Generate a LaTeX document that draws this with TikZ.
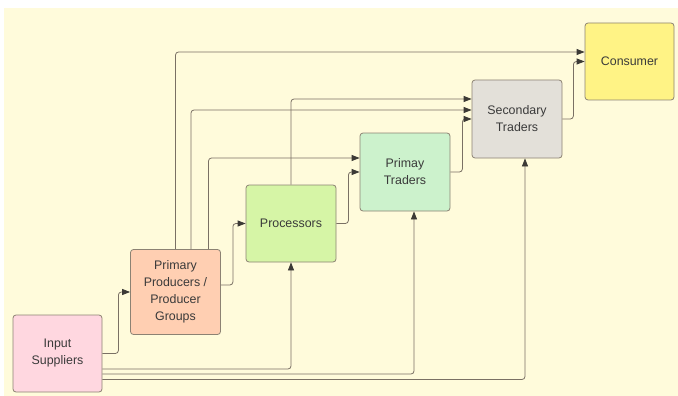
\documentclass[tikz,border=0pt]{standalone}
\usepackage{fontspec}
\setmainfont{Liberation Sans}
\usetikzlibrary{arrows.meta}
\definecolor{bgcream}{HTML}{FFFBDB}
\definecolor{edgegray}{HTML}{8C8273}
\definecolor{linegray}{HTML}{7A7064}
\definecolor{tipgray}{HTML}{3C3A36}
\definecolor{txtgray}{HTML}{3A3A3A}
\definecolor{cinput}{HTML}{FFD7E0}
\definecolor{cprod}{HTML}{FFCFB2}
\definecolor{cproc}{HTML}{D6F5A6}
\definecolor{cprim}{HTML}{CCF2CC}
\definecolor{csec}{HTML}{E3E0D9}
\definecolor{ccons}{HTML}{FFF385}
\begin{document}
\begin{tikzpicture}[x=1pt,y=-1pt,>={Stealth[length=8pt,width=6pt,inset=0pt,color=tipgray]},
	box/.style={draw=edgegray,line width=0.8pt,rounded corners=3pt,minimum width=90pt,minimum height=78pt,
		align=center,text=txtgray,font=\fontsize{12.4}{17}\selectfont,inner sep=2pt},
	link/.style={->,draw=linegray,line width=0.8pt,rounded corners=3pt}]
			\useasboundingbox (0,0) rectangle (678,396);
			\fill[bgcream] (4,8) rectangle (678,396);
			\node[box,fill=cinput,minimum width=89pt,minimum height=77pt] (in) at (57.5,353.5) {Input\\Suppliers};
			\node[box,fill=cprod,minimum height=85pt] (prod) at (175.5,292) {Primary\\Producers /\\Producer\\Groups};
			\node[box,fill=cproc,minimum height=77pt] (proc) at (291,223.5) {Processors};
			\node[box,fill=cprim] (prim) at (405,172) {Primay\\Traders};
			\node[box,fill=csec] (sec) at (517,119) {Secondary\\Traders};
			\node[box,fill=ccons,minimum width=89pt,minimum height=77pt] (cons) at (629.5,61.5) {Consumer};
			% from the input suppliers
			\draw[link] (in.east) -- ++(16,0) |- (prod.west);
			\draw[link] ([yshift=-15.5pt]in.east) -| (proc.south);
			\draw[link] ([yshift=-20.5pt]in.east) -| ([xshift=9pt]prim.south);
			\draw[link] ([yshift=-26pt]in.east) -| ([xshift=8pt]sec.south);
			% from the producers
			\draw[link] ([yshift=7pt]prod.east) -- ++(12,0) |- (proc.west);
			\draw[link] (prod.north) |- ([yshift=9.5pt]cons.west);
			\draw[link] ([xshift=15.5pt]prod.north) |- ([yshift=9pt]sec.west);
			\draw[link] ([xshift=33pt]prod.north) |- ([yshift=14pt]prim.west);
			% further along the chain
			\draw[link] (proc.north) |- ([yshift=20pt]sec.west);
			\draw[link] (proc.east) -- ++(12,0) |- (prim.west);
			\draw[link] (prim.east) -- ++(12,0) |- (sec.west);
			\draw[link] (sec.east) -- ++(11,0) |- (cons.west);
		\end{tikzpicture}
\end{document}
